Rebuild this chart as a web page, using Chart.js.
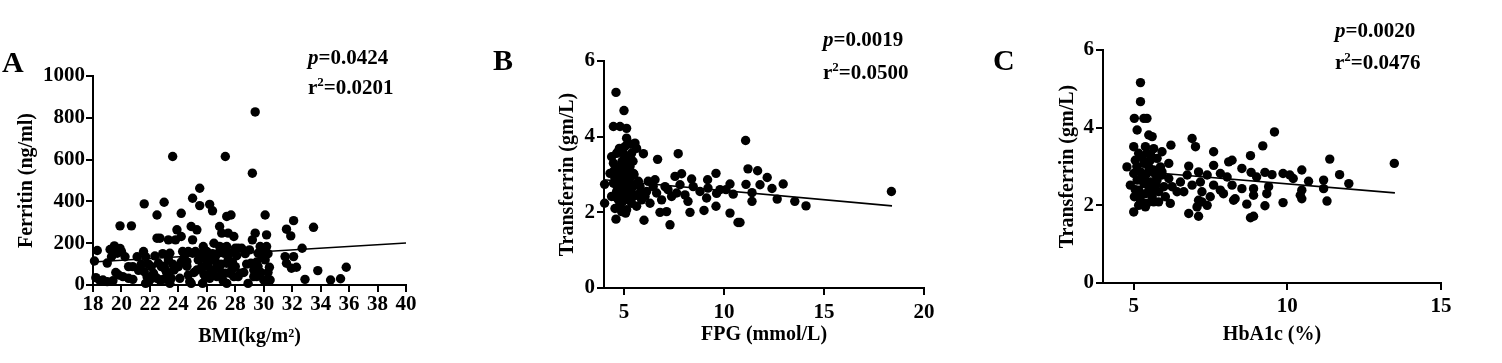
<!DOCTYPE html>
<html>
<head>
<meta charset="utf-8">
<script src="https://cdn.jsdelivr.net/npm/chart.js@4.4.1/dist/chart.umd.min.js"></script>
<style>
  body { margin: 0; background: #fff; }
  #painel { position: relative; width: 1502px; height: 363px; }
  canvas { position: absolute; top: 0; }
</style>
</head>
<body>
<div id="painel">
  <canvas id="grafA" width="440" height="363" style="left:0px"></canvas>
  <canvas id="grafB" width="480" height="363" style="left:470px"></canvas>
  <canvas id="grafC" width="532" height="363" style="left:970px"></canvas>
</div>
<script>
// dados do painel A (BMI x ferritina)
const bmi = [18.1,18.3,18.2,18.5,19.0,19.2,19.5,19.3,19.7,19.9,20.0,18.7,19.0,19.4,19.8,19.9,20.25,20.5,20.7,20.8,21.1,20.8,20.5,20.1,
  21.6,21.55,21.7,21.6,21.8,21.7,22.0,22.25,22.35,22.5,22.5,22.7,22.6,22.8,22.5,22.95,23.0,23.2,23.3,23.4,23.3,23.5,23.6,23.8,23.9,23.7,24.1,24.2,24.2,24.3,24.0,
  24.5,24.6,24.7,24.8,24.9,25.0,25.0,25.2,25.3,25.3,25.5,25.5,25.65,25.75,25.65,25.9,25.9,26.2,26.4,26.1,26.35,26.5,26.6,26.5,26.7,26.9,26.9,
  27.05,26.9,27.2,27.3,27.4,27.7,27.5,27.4,27.6,27.4,27.3,27.4,27.75,27.9,27.9,28.0,28.2,28.35,28.45,28.9,29.0,29.1,29.2,29.2,29.3,29.4,29.4,29.5,29.6,29.6,29.75,29.9,30.0,30.1,30.2,30.2,30.1,30.2,30.4,30.45,30.0,
  31.5,31.6,31.6,31.9,31.95,32.1,32.1,32.3,32.7,32.9,33.5,33.8,34.7,35.4,35.8,
  24.7,25.0,26.0,26.7,26.8,27.05,27.6,28.0,28.2,26.2,25.7,24.9,22.1,23.1,23.4,22.7,
  21.9,22.3,22.9,23.6,24.4,25.4,26.0,26.3,27.0,27.15,27.8,28.6,29.3,29.8,30.3,21.2,23.0,24.6,25.8,28.7,
  24.2,25.1,25.6,26.4,27.1,27.5,28.1,28.8,29.5,30.3,19.6,21.4];
const ferritina = [115,165,35,20,105,170,187,135,152,175,160,24,16,20,48,283,135,88,283,88,135,27,32,40,
  388,160,135,64,40,8,24,56,139,224,335,224,104,88,32,27,396,56,120,152,216,32,615,216,264,72,32,343,232,160,88,
  152,112,48,16,280,415,216,160,264,72,463,380,152,184,88,144,40,386,355,88,120,200,136,72,40,88,184,
  248,280,152,615,328,335,248,184,152,104,56,8,72,40,232,176,176,56,176,8,168,104,216,535,72,248,828,40,152,88,184,136,152,335,240,184,120,24,85,24,24,
  136,267,104,235,80,136,308,85,176,27,276,69,24,30,85,
  160,152,104,104,152,56,56,88,40,32,8,8,88,72,8,24,
  100,40,150,100,130,120,160,60,100,20,110,60,40,60,150,70,90,90,50,150,
  110,60,130,150,180,120,140,100,110,60,60,100];
const retaA_x = [18, 40];
const retaA_y = [110, 201];

// dados do painel B (FPG x transferrina)
const fpg = [4.6,5.0,4.47,4.8,5.13,5.13,5.55,5.05,5.97,7.71,6.68,11.08,11.2,11.68,9.6,7.88,7.55,12.16,12.96,8.38,9.18,11.1,11.8,10.3,12.4,18.37,11.4,11.4,10.46,9.8,9.63,10.1,12.66,13.54,14.1,9.6,9.0,10.3,10.7,10.8,8.3,8.2,8.05,8.46,8.8,9.13,9.2,7.3,6.8,7.13,7.38,7.2,6.88,6.63,6.46,6.55,6.3,6.0,6.05,5.8,5.63,4.6,4.03,4.03,
  4.38,4.63,4.47,4.8,4.97,4.72,4.47,5.13,5.38,5.3,5.47,5.13,4.88,4.63,4.38,4.72,5.05,5.3,5.55,5.72,4.8,5.13,5.08,4.88,5.38,5.47,4.55,5.22,4.97,4.77,5.63,5.8,4.3,5.22,4.88,5.63,5.88,6.13,6.21,7.05,7.63,7.8,
  4.5,4.7,4.9,5.0,5.2,5.4,4.6,4.85,5.1,5.3,4.95,5.15,4.75,5.45,5.0,
  4.55,4.7,4.9,5.05,5.25,5.35,5.5,4.65,4.85,5.2];
const transfB = [5.17,4.69,4.27,4.27,4.22,3.96,3.83,3.74,3.55,3.55,3.40,3.90,3.15,3.10,3.03,3.02,2.95,2.92,2.75,2.88,2.86,2.74,2.73,2.75,2.63,2.55,2.52,2.29,2.48,2.6,2.5,2.6,2.35,2.29,2.17,2.16,2.05,1.98,1.73,1.73,2.0,2.29,2.46,2.68,2.55,2.38,2.64,1.67,2.0,2.02,2.42,2.6,2.33,2.51,2.68,2.86,2.24,1.79,2.42,2.68,2.16,1.82,2.24,2.74,
  3.47,3.56,3.30,3.21,3.03,2.95,2.77,3.39,3.56,3.21,3.03,2.82,2.68,2.55,2.42,2.33,2.42,2.55,2.73,2.82,2.16,2.07,1.98,2.02,2.24,2.42,2.9,3.12,3.56,3.69,3.69,2.51,3.03,2.33,2.51,2.46,2.33,2.55,2.82,2.68,2.51,2.73,
  3.1,2.85,3.35,2.6,2.95,2.65,2.4,2.25,2.5,2.9,2.3,3.25,3.05,3.35,2.85,
  2.1,3.6,2.55,3.45,2.35,3.8,3.0,2.7,3.15,2.7];
const retaB_x = [4, 18.4];
const retaB_y = [2.86, 2.17];

// dados do painel C (HbA1c x transferrina)
const hba1c = [5.22,5.22,5.02,5.33,5.43,5.11,5.49,5.6,6.21,6.9,7.01,7.6,9.58,9.2,8.8,11.38,13.48,8.2,8.09,7.6,6.79,6.14,8.52,10.47,9.27,9.5,9.86,10.08,10.19,8.82,9.0,11.7,10.69,11.18,12.0,11.18,10.47,10.47,10.42,11.29,9.86,9.27,9.33,9.39,8.9,8.9,8.68,8.8,8.9,8.25,8.3,8.2,8.52,7.92,7.82,7.6,7.49,7.39,7.22,7.11,7.06,7.11,6.79,7.22,7.17,6.9,7.39,7.82,8.04,7.11,6.74,6.52,6.41,6.19,6.63,6.25,6.14,5.92,5.92,5.0,4.78,4.89,
  5.0,5.16,5.38,5.65,5.05,5.33,5.54,5.76,5.22,5.43,5.65,5.11,5.33,5.54,5.76,5.16,5.38,5.6,5.81,5.22,5.43,5.16,5.65,5.81,5.38,5.6,5.98,6.03,5.27,5.49,5.71,5.0,5.02,5.43,5.87,5.92,
  5.1,5.3,5.5,5.7,5.2,5.4,5.6,5.05,5.35,5.55];
const transfC = [5.16,4.67,4.24,4.24,4.24,3.94,3.81,3.77,3.55,3.72,3.51,3.38,3.89,3.53,3.28,3.19,3.08,3.16,3.12,3.03,3.01,3.08,2.95,2.91,2.85,2.79,2.82,2.78,2.69,2.85,2.73,2.79,2.62,2.65,2.56,2.43,2.39,2.17,2.26,2.11,2.07,1.99,2.3,2.48,2.26,2.43,2.03,1.68,1.72,2.13,2.17,2.52,2.43,2.3,2.39,2.52,2.22,2.0,2.09,2.13,1.96,1.72,1.79,2.35,2.6,2.52,2.78,2.82,2.73,2.86,2.78,2.6,2.35,2.05,2.35,2.48,2.69,2.86,3.38,1.83,2.99,2.52,
  3.51,3.34,3.51,3.46,3.16,3.08,3.16,3.21,2.86,2.82,2.91,2.65,2.56,2.6,2.65,2.39,2.3,2.39,2.35,2.13,2.05,2.0,2.09,2.09,1.96,2.22,2.48,2.22,3.25,2.99,2.52,2.82,2.22,3.34,2.99,2.78,
  3.0,2.7,2.45,2.8,2.25,3.1,2.15,2.4,2.75,3.3];
const retaC_x = [4.9, 13.5];
const retaC_y = [2.89, 2.32];

// ticks de cada eixo
const ticksA_x = [18,20,22,24,26,28,30,32,34,36,38,40];
const ticksA_y = [0,200,400,600,800,1000];
const ticksB_x = [5,10,15,20];
const ticksC_x = [5,10,15];
const ticksTransf = [0,2,4,6];

const fonte = '"Liberation Serif", "Times New Roman", serif';
const ALTURA = 363;

// junta x e y em pontos {x, y}
const juntar = (xs, ys) => xs.map((x, i) => ({ x: x, y: ys[i] }));

// plugin que escreve a letra do painel e o p / r2
const textoPlugin = {
    id: 'textoPainel',
    afterDraw(chart, args, op) {
        const ctx = chart.ctx;
        ctx.save();
        ctx.fillStyle = '#000';
        ctx.textBaseline = 'alphabetic';
        ctx.textAlign = 'left';
        ctx.font = 'bold 30px ' + fonte;
        ctx.fillText(op.letra, op.letraX, op.letraY);

        ctx.font = 'italic bold 21px ' + fonte;
        ctx.fillText('p', op.txtX, op.pY);
        let w = ctx.measureText('p').width;
        ctx.font = 'bold 21px ' + fonte;
        ctx.fillText('=' + op.p, op.txtX + w, op.pY);

        ctx.fillText('r', op.txtX, op.rY);
        w = ctx.measureText('r').width;
        ctx.font = 'bold 13px ' + fonte;
        ctx.fillText('2', op.txtX + w, op.rY - 8);
        const w2 = ctx.measureText('2').width;
        ctx.font = 'bold 21px ' + fonte;
        ctx.fillText('=' + op.r2, op.txtX + w + w2, op.rY);
        ctx.restore();
    }
};

// monta um painel; area = posicao da area do grafico dentro do canvas
const montarPainel = (id, cfg) => {
    const canvas = document.getElementById(id);
    const largura = canvas.width;
    const a = cfg.area;

    const eixoBase = {
        type: 'linear',
        grid: { drawOnChartArea: false, drawTicks: true, tickLength: 7, color: '#000', lineWidth: 2 },
        border: { display: true, color: '#000', width: 2 },
    };

    new Chart(canvas.getContext('2d'), {
        type: 'scatter',
        data: {
            datasets: [{
                data: juntar(cfg.xs, cfg.ys),
                backgroundColor: '#000',
                borderWidth: 0,
                pointRadius: 4.7,
                pointHoverRadius: 4.7,
                clip: false,
                order: 2
            }, {
                type: 'line',
                data: juntar(cfg.retaX, cfg.retaY),
                borderColor: '#000',
                borderWidth: 1.6,
                pointRadius: 0,
                fill: false,
                clip: false,
                order: 1
            }]
        },
        options: {
            responsive: false,
            animation: false,
            devicePixelRatio: 1,
            layout: { padding: { left: 0, top: a.top, right: largura - a.right, bottom: 0 } },
            plugins: {
                legend: { display: false },
                tooltip: { enabled: false },
                textoPainel: cfg.texto
            },
            scales: {
                x: {
                    ...eixoBase,
                    position: 'bottom',
                    min: cfg.xMin, max: cfg.xMax,
                    afterBuildTicks: (s) => { s.ticks = cfg.xTicks.map(v => ({ value: v })); },
                    afterFit: (s) => { s.height = ALTURA - a.bottom; },
                    ticks: { color: '#000', font: { family: fonte, size: 21, weight: 'bold' }, padding: cfg.padX, maxRotation: 0, autoSkip: false, callback: v => String(v) },
                    title: { display: true, text: cfg.tituloX, color: '#000', font: { family: fonte, size: 20, weight: 'bold' }, padding: { top: 0, bottom: cfg.tituloXpad } }
                },
                y: {
                    ...eixoBase,
                    position: 'left',
                    min: cfg.yMin, max: cfg.yMax,
                    afterBuildTicks: (s) => { s.ticks = cfg.yTicks.map(v => ({ value: v })); },
                    afterFit: (s) => { s.width = a.left; },
                    ticks: { color: '#000', font: { family: fonte, size: 21, weight: 'bold' }, padding: cfg.padY, autoSkip: false, callback: v => String(v) },
                    title: { display: true, text: cfg.tituloY, color: '#000', font: { family: fonte, size: 20, weight: 'bold' }, padding: { top: cfg.tituloYpad, bottom: 0 } }
                }
            }
        },
        plugins: [textoPlugin]
    });
};

montarPainel('grafA', {
    area: { left: 93, right: 406, top: 76, bottom: 285 },
    xs: bmi, ys: ferritina, retaX: retaA_x, retaY: retaA_y,
    xMin: 18, xMax: 40, yMin: 0, yMax: 1000,
    xTicks: ticksA_x, yTicks: ticksA_y,
    padX: 0, padY: 1,
    tituloX: 'BMI(kg/m²)', tituloXpad: 14,
    tituloY: 'Ferritin (ng/ml)', tituloYpad: 15,
    texto: { letra: 'A', letraX: 2, letraY: 72, txtX: 308, pY: 64, rY: 94, p: '0.0424', r2: '0.0201' }
});

montarPainel('grafB', {
    area: { left: 134, right: 454, top: 61, bottom: 288 },
    xs: fpg, ys: transfB, retaX: retaB_x, retaY: retaB_y,
    xMin: 4, xMax: 20, yMin: 0, yMax: 6,
    xTicks: ticksB_x, yTicks: ticksTransf,
    padX: 5, padY: 2,
    tituloX: 'FPG (mmol/L)', tituloXpad: 16,
    tituloY: 'Transferrin (gm/L)', tituloYpad: 86,
    texto: { letra: 'B', letraX: 23, letraY: 70, txtX: 353, pY: 46, rY: 79, p: '0.0019', r2: '0.0500' }
});

montarPainel('grafC', {
    area: { left: 133, right: 471, top: 50, bottom: 283 },
    xs: hba1c, ys: transfC, retaX: retaC_x, retaY: retaC_y,
    xMin: 4, xMax: 15, yMin: 0, yMax: 6,
    xTicks: ticksC_x, yTicks: ticksTransf,
    padX: 4, padY: 2,
    tituloX: 'HbA1c (%)', tituloXpad: 16,
    tituloY: 'Transferrin (gm/L)', tituloYpad: 86,
    texto: { letra: 'C', letraX: 23, letraY: 70, txtX: 365, pY: 37, rY: 69, p: '0.0020', r2: '0.0476' }
});
</script>
</body>
</html>
